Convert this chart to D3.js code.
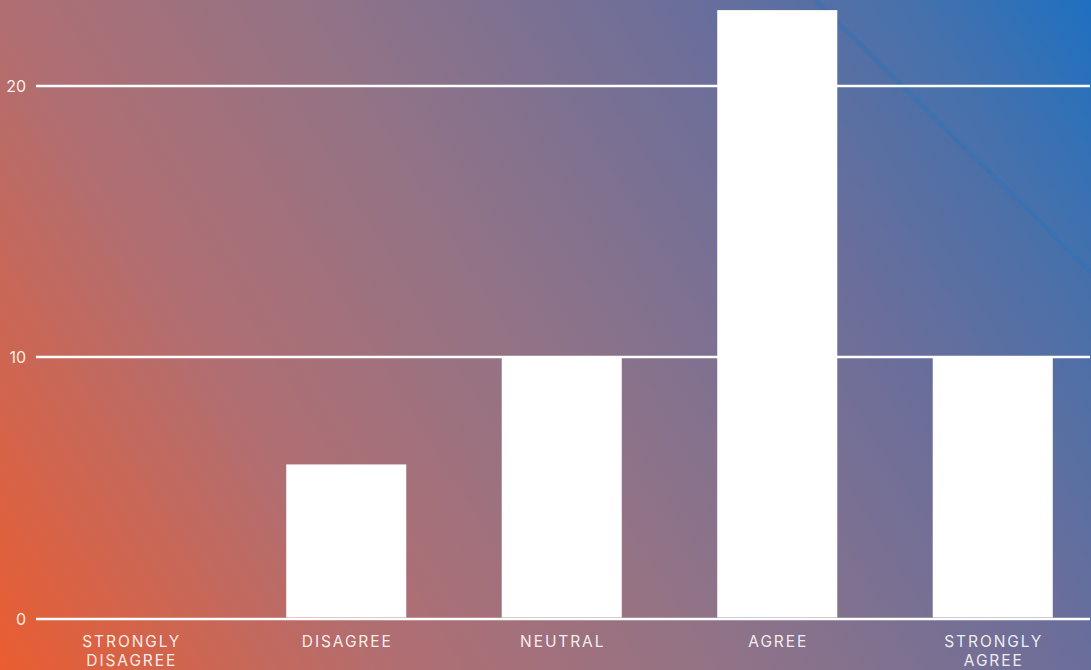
<!DOCTYPE html>
<html>
<head>
<meta charset="utf-8">
<script src="https://cdn.jsdelivr.net/npm/d3@7"></script>
<style>
html,body{margin:0;padding:0;background:#fff;}
svg{display:block;}
</style>
</head>
<body>
<svg id="chart" width="1091" height="670"></svg>
<script>
const categories = ["Strongly Disagree", "Disagree", "Neutral", "Agree", "Strongly Agree"];
const labelLines = [["STRONGLY", "DISAGREE"], ["DISAGREE"], ["NEUTRAL"], ["AGREE"], ["STRONGLY", "AGREE"]];
const values = [0, 5.9, 10, 22.8, 10];
const yTicks = [0, 10, 20];

const W = 1091, H = 670;
const svg = d3.select("#chart");
const defs = svg.append("defs");

const grad = defs.append("linearGradient")
  .attr("id", "bg").attr("gradientUnits", "userSpaceOnUse")
  .attr("x1", 0).attr("y1", H).attr("x2", W).attr("y2", 0);
[[0, "#ea5d31"], [0.27, "#b06e72"], [0.48, "#927386"], [0.73, "#6a6e9b"], [0.88, "#4770aa"], [1, "#1d6fc0"]]
  .forEach(([o, c]) => grad.append("stop").attr("offset", o).attr("stop-color", c));

svg.append("rect").attr("width", W).attr("height", H).attr("fill", "url(#bg)");

// subtle diagonal stripe in top-right corner
svg.append("path")
  .attr("d", `M${815},0 L${W},0 L${W},${272} Z`)
  .attr("fill", "#3a8ad0").attr("fill-opacity", 0.05);
svg.append("line")
  .attr("x1", 815).attr("y1", 0).attr("x2", W).attr("y2", 272)
  .attr("stroke", "#2273bf").attr("stroke-width", 5).attr("stroke-opacity", 0.3);

const x = d3.scaleBand().domain(categories).range([23, 1100.5])
  .paddingInner(0.443).paddingOuter(0.2215);
const y = d3.scaleLinear().domain([0, 10, 20]).range([619, 357, 86]);

// gridlines
svg.append("g").selectAll("line").data(yTicks).join("line")
  .attr("x1", 36).attr("x2", 1090)
  .attr("y1", d => y(d)).attr("y2", d => y(d))
  .attr("stroke", "#ffffff").attr("stroke-width", 2.4);

// y labels
svg.append("g").selectAll("text").data(yTicks).join("text")
  .attr("x", 26).attr("y", d => y(d))
  .attr("dy", "0.36em")
  .attr("text-anchor", "end")
  .attr("fill", "#ffffff").attr("fill-opacity", 0.92)
  .style("font-family", "Inter, 'Noto Sans', sans-serif")
  .style("font-size", "16px")
  .text(d => d);

// bars
svg.append("g").selectAll("rect").data(values).join("rect")
  .attr("x", (d, i) => x(categories[i]))
  .attr("width", x.bandwidth())
  .attr("y", d => y(d))
  .attr("height", d => Math.max(0, y(0) - 1.5 - y(d)))
  .attr("fill", "#ffffff");

// x labels
const lab = svg.append("g").selectAll("text").data(categories).join("text")
  .attr("x", d => x(d) + x.bandwidth() / 2)
  .attr("y", 647)
  .attr("text-anchor", "middle")
  .attr("fill", "#ffffff").attr("fill-opacity", 0.9)
  .style("font-family", "Inter, 'Noto Sans', sans-serif")
  .style("font-size", "15.5px")
  .style("letter-spacing", "1.9px");
lab.each(function(d, i) {
  const t = d3.select(this);
  labelLines[i].forEach((ln, k) => {
    t.append("tspan").attr("x", x(d) + x.bandwidth() / 2 + 1)
      .attr("dy", k === 0 ? 0 : 19).text(ln);
  });
});
</script>
</body>
</html>
